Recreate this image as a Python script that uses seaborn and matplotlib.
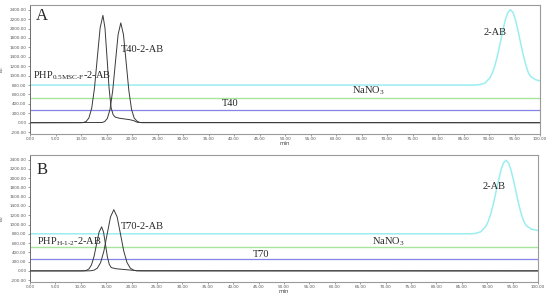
import numpy as np
import pandas as pd
import seaborn as sns
import matplotlib.pyplot as plt
from matplotlib.ticker import MultipleLocator, FormatStrFormatter

# ---- panel A traces (time in min, signal in EU) ----
a_php_t = [0, 10.0, 10.45, 11.0, 11.55, 12.1, 12.65, 13.2, 13.75, 14.3, 14.7, 15.1, 15.5,
           15.9, 16.3, 16.7, 17.5, 18.5, 19.5, 20.3, 21.0, 22.0, 100]
a_php_v = [0, 0, 5, 25, 100, 309, 740, 1383, 2012, 2280, 2012, 1383, 740,
           320, 170, 120, 95, 80, 65, 45, 10, 0, 0]
a_t40_t = [0, 14.1, 14.65, 15.175, 15.7, 16.225, 16.75, 17.275, 17.8, 18.325, 18.85,
           19.375, 19.9, 20.425, 20.95, 21.5, 100]
a_t40_v = [0, 4, 24, 93, 287, 688, 1286, 1871, 2120, 1871, 1286,
           688, 287, 100, 35, 5, 0]
a_ab_t = [0, 87.2, 88.2, 89.2, 90.2, 90.7, 91.2, 91.7, 92.2, 92.7, 93.2, 93.7, 94.2,
          94.7, 95.2, 95.7, 96.2, 96.7, 97.2, 97.7, 98.2, 99.2, 100]
a_ab_v = [800, 800, 808, 842, 955, 1067, 1230, 1442, 1692, 1952, 2182, 2342, 2400,
          2342, 2182, 1952, 1692, 1442, 1230, 1067, 975, 910, 890]
a_nano3 = 535
a_t40 = 268

# ---- panel B traces ----
b_php_t = [0, 10.0, 10.6, 11.1, 11.6, 12.1, 12.6, 13.1, 13.6, 14.1, 14.475, 14.85,
           15.225, 15.6, 16.0, 17.0, 18.0, 19.0, 20.0, 21.0, 22.0, 100]
b_php_v = [0, 0, 2, 10, 42, 129, 308, 576, 838, 950, 838, 576,
           308, 140, 70, 45, 35, 25, 15, 3, 0, 0]
b_t70_t = [0, 11.4, 12.0, 12.6, 13.25, 13.9, 14.55, 15.2, 15.85, 16.5, 17.15, 17.8,
           18.45, 19.1, 19.75, 20.4, 21.0, 100]
b_t70_v = [0, 0, 3, 15, 58, 179, 429, 800, 1165, 1320, 1165, 800,
           429, 179, 58, 15, 3, 0]
b_ab_t = [0, 86.7, 87.7, 88.7, 89.7, 90.2, 90.7, 91.2, 91.7, 92.2, 92.7, 93.2, 93.7,
          94.2, 94.7, 95.2, 95.7, 96.2, 96.7, 97.2, 97.7, 98.7, 100]
b_ab_v = [800, 800, 808, 842, 955, 1067, 1230, 1440, 1690, 1945, 2170, 2330, 2385,
          2330, 2170, 1945, 1690, 1440, 1230, 1067, 975, 900, 871]
b_nano3 = 525
b_t70 = 260

span = [0, 100]

CYAN = "#9beef0"
GREEN = "#a6e59a"
BLUE = "#8585e6"
BLACK = "#3a3a3a"

sns.set_style("white")
plt.rcParams["font.family"] = ["Liberation Serif", "DejaVu Serif"]
plt.rcParams["mathtext.fontset"] = "custom"
plt.rcParams["mathtext.rm"] = "Liberation Serif"
plt.rcParams["mathtext.it"] = "Liberation Serif"

fig = plt.figure(figsize=(5.5, 2.98), dpi=100)
axA = fig.add_axes([30 / 550, 1 - 134 / 298, 510 / 550, 129 / 298])
axB = fig.add_axes([30 / 550, 1 - 282 / 298, 508 / 550, 127 / 298])


def draw_panel(ax, php, pep, ab, nano3, flat):
    sns.lineplot(x=span, y=[nano3, nano3], ax=ax, color=GREEN, lw=1.0)
    sns.lineplot(x=span, y=[flat, flat], ax=ax, color=BLUE, lw=0.9)
    sns.lineplot(x=ab[0], y=ab[1], ax=ax, color=CYAN, lw=1.1)
    sns.lineplot(x=pep[0], y=pep[1], ax=ax, color=BLACK, lw=0.7)
    sns.lineplot(x=php[0], y=php[1], ax=ax, color=BLACK, lw=0.7)
    ax.set_xlim(0, 100)
    ax.set_ylim(-240, 2500)
    ax.xaxis.set_major_locator(MultipleLocator(5))
    ax.xaxis.set_minor_locator(MultipleLocator(1))
    ax.yaxis.set_major_locator(MultipleLocator(200))
    ax.xaxis.set_major_formatter(FormatStrFormatter("%.2f"))
    ax.yaxis.set_major_formatter(FormatStrFormatter("%.2f"))
    ax.tick_params(axis="both", which="major", labelsize=3, length=1.5, width=0.4,
                   pad=1, colors="#555555", bottom=True, left=True)
    ax.tick_params(axis="x", which="minor", length=1, width=0.3, colors="#777777", bottom=True)
    for lab in ax.get_xticklabels() + ax.get_yticklabels():
        lab.set_family("DejaVu Sans")
    for side in ["top", "right", "bottom"]:
        ax.spines[side].set_color("#9a9a9a")
        ax.spines[side].set_linewidth(0.8)
    ax.spines["left"].set_color("#555555")
    ax.spines["left"].set_linewidth(0.6)
    ax.set_xlabel("min", fontsize=4, labelpad=0, color="#444444", family="DejaVu Sans")
    ax.set_ylabel("EU", fontsize=3, labelpad=4, color="#444444", family="DejaVu Sans")


draw_panel(axA, (a_php_t, a_php_v), (a_t40_t, a_t40_v), (a_ab_t, a_ab_v), a_nano3, a_t40)
draw_panel(axB, (b_php_t, b_php_v), (b_t70_t, b_t70_v), (b_ab_t, b_ab_v), b_nano3, b_t70)

fs = 7.5
axA.text(1.2, 2262, "A", fontsize=12, va="center", ha="left")
axA.text(0.6, 994, r"PHP$_{\mathregular{0.5MSC\text{-}F}}$-2-AB", fontsize=fs, va="center")
axA.text(17.8, 1565, "T40-2-AB", fontsize=fs, va="center")
axA.text(89, 1924, "2-AB", fontsize=fs, va="center")
axA.text(63.1, 683, r"NaNO$_{\mathregular{3}}$", fontsize=fs, va="center")
axA.text(37.6, 402, "T40", fontsize=fs, va="center")

axB.text(1.2, 2173, "B", fontsize=12, va="center", ha="left")
axB.text(1.3, 627, r"PHP$_{\mathregular{H\text{-}1\text{-}2}}$-2-AB", fontsize=fs, va="center")
axB.text(17.8, 951, "T70-2-AB", fontsize=fs, va="center")
axB.text(89, 1816, "2-AB", fontsize=fs, va="center")
axB.text(67.4, 627, r"NaNO$_{\mathregular{3}}$", fontsize=fs, va="center")
axB.text(43.8, 352, "T70", fontsize=fs, va="center")

fig.savefig("out.png", dpi=100)
